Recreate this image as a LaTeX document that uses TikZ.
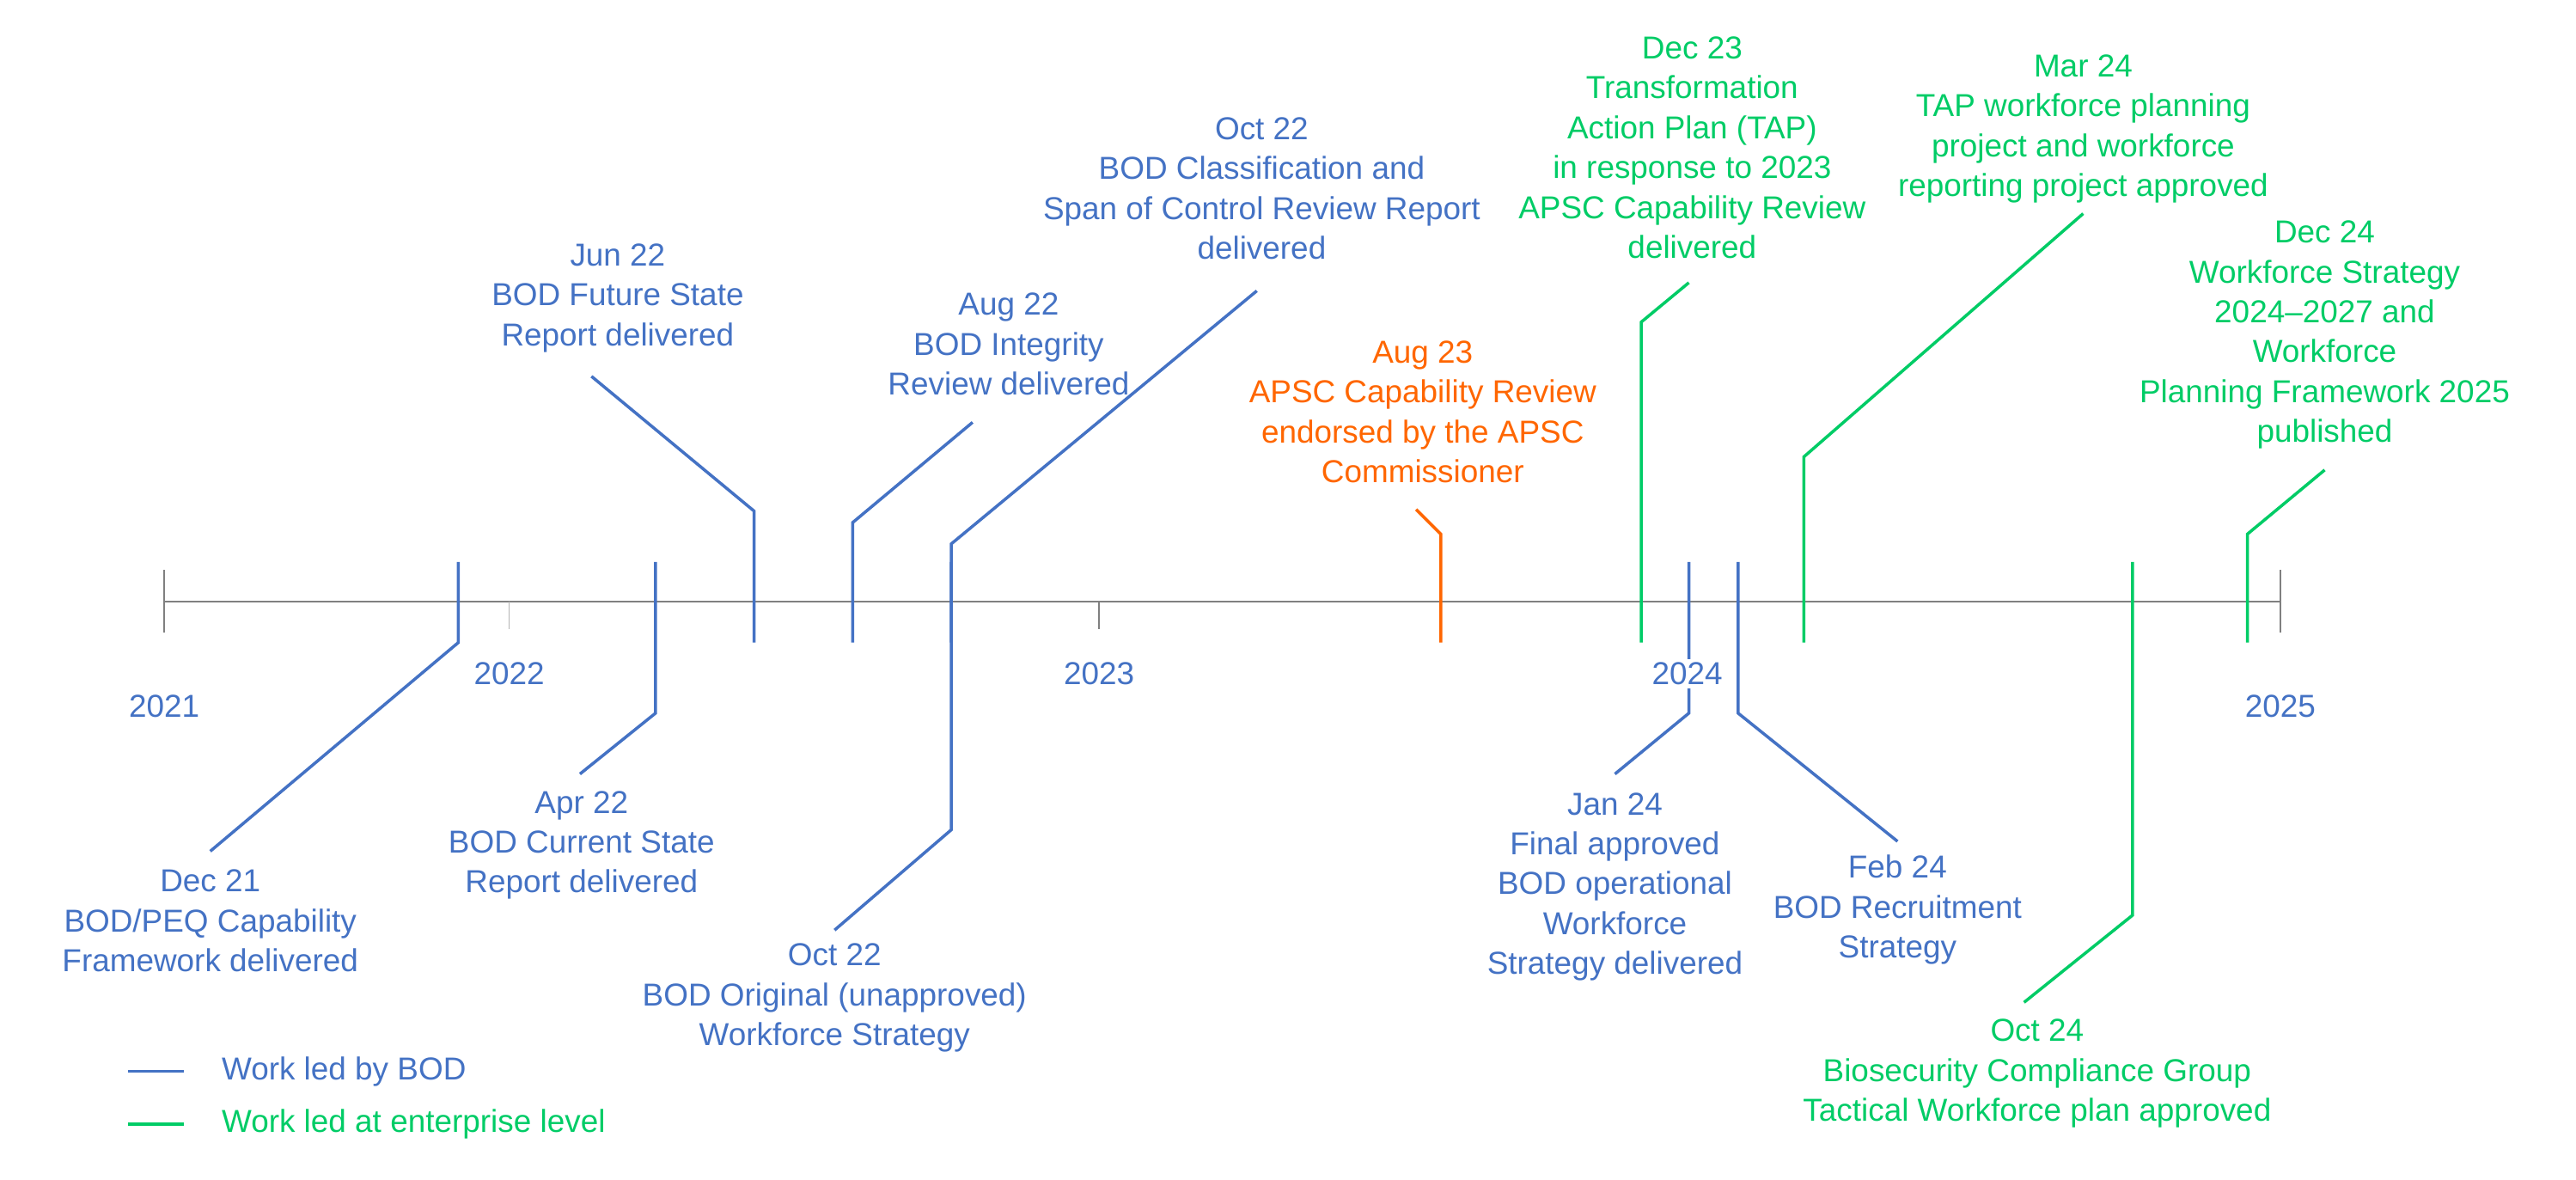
\documentclass[tikz,border=0pt]{standalone}
\usepackage{fontspec}
\setmainfont{Liberation Sans}
\definecolor{bodblue}{RGB}{68, 114, 196}
\definecolor{entgreen}{RGB}{0, 204, 102}
\definecolor{apscorange}{RGB}{255, 102, 0}
\definecolor{axisgrey}{RGB}{128, 128, 128}
\tikzset{
  event/.style={line width=1pt},
  lbl/.style={align=center, anchor=north, inner sep=0pt,
    font=\fontsize{10.5}{13.2}\selectfont},
  yearlbl/.style={text=bodblue, fill=white, inner sep=1pt,
    font=\fontsize{10.5}{13.2}\selectfont},
}
\begin{document}
\begin{tikzpicture}[x=0.01912cm, y=-0.01912cm]
            \useasboundingbox (0,0) rectangle (1568,718);

            % Axis
            \coordinate (start) at (100,366);
            \coordinate (end) at (1388,366);
            \draw[axisgrey] (start) -- (end);
            \draw[axisgrey] (100,347) -- (100,385);
            \draw[axisgrey] (1388,347) -- (1388,385);
            \draw[axisgrey!60] (310,366) -- (310,383);
            \draw[axisgrey] (669,366) -- (669,383);

            % Blue events
            \draw[event, bodblue] (279,342) -- (279,391) -- (128,518);
            \draw[event, bodblue] (399,342) -- (399,434) -- (353,471);
            \draw[event, bodblue] (459,391) -- (459,311) -- (360,229);
            \draw[event, bodblue] (519,391) -- (519,318) -- (592,257);
            \draw[event, bodblue] (579,391) -- (579,331) -- (765,177);
            \draw[event, bodblue] (579,342) -- (579,505) -- (508,566);
            \draw[event, bodblue] (1028,342) -- (1028,434) -- (983,471);
            \draw[event, bodblue] (1058,342) -- (1058,434) -- (1155,512);

            % APSC event
            \draw[event, apscorange] (877,391) -- (877,325) -- (862,310);

            % Enterprise events
            \draw[event, entgreen] (999,391) -- (999,196) -- (1028,172);
            \draw[event, entgreen] (1098,391) -- (1098,278) -- (1268,130);
            \draw[event, entgreen] (1298,342) -- (1298,557) -- (1232,610);
            \draw[event, entgreen] (1368,391) -- (1368,325) -- (1415,286);

            % Years
            \node[yearlbl] (y2021) at (100,430) {2021};
            \node[yearlbl] (y2022) at (310,410) {2022};
            \node[yearlbl] (y2023) at (669,410) {2023};
            \node[yearlbl] (y2024) at (1027,410) {2024};
            \node[yearlbl] (y2025) at (1388,430) {2025};

            % Labels
            \node[lbl, text=bodblue] (dec21) at (128,529) {Dec 21\\BOD/PEQ Capability\\Framework delivered};
            \node[lbl, text=bodblue] (apr22) at (354,481) {Apr 22\\BOD Current State\\Report delivered};
            \node[lbl, text=bodblue] (jun22) at (376,148) {Jun 22\\BOD Future State\\Report delivered};
            \node[lbl, text=bodblue] (aug22) at (614,178) {Aug 22\\BOD Integrity\\Review delivered};
            \node[lbl, text=bodblue] (oct22a) at (768,71) {Oct 22\\BOD Classification and\\Span of Control Review Report\\delivered};
            \node[lbl, text=bodblue] (oct22b) at (508,574) {Oct 22\\BOD Original (unapproved)\\Workforce Strategy};
            \node[lbl, text=apscorange] (aug23) at (866,207) {Aug 23\\APSC Capability Review\\endorsed by the APSC\\Commissioner};
            \node[lbl, text=entgreen] (dec23) at (1030,22) {Dec 23\\Transformation\\Action Plan (TAP)\\in response to 2023\\APSC Capability Review\\delivered};
            \node[lbl, text=bodblue] (jan24) at (983,482) {Jan 24\\Final approved\\BOD operational\\Workforce\\Strategy delivered};
            \node[lbl, text=bodblue] (feb24) at (1155,520) {Feb 24\\BOD Recruitment\\Strategy};
            \node[lbl, text=entgreen] (mar24) at (1268,33) {Mar 24\\TAP workforce planning\\project and workforce\\reporting project approved};
            \node[lbl, text=entgreen] (oct24) at (1240,620) {Oct 24\\Biosecurity Compliance Group\\Tactical Workforce plan approved};
            \node[lbl, text=entgreen] (dec24) at (1415,134) {Dec 24\\Workforce Strategy\\2024--2027 and\\Workforce\\Planning Framework 2025\\published};

            % Legend
            \draw[event, bodblue] (78,652) -- (112,652) node[lbl, anchor=west, text=bodblue, xshift=12] (legbod) {Work led by BOD};
            \draw[event, entgreen] (78,684) -- (112,684) node[lbl, anchor=west, text=entgreen, xshift=12] (legent) {Work led at enterprise level};
          \end{tikzpicture}
\end{document}
